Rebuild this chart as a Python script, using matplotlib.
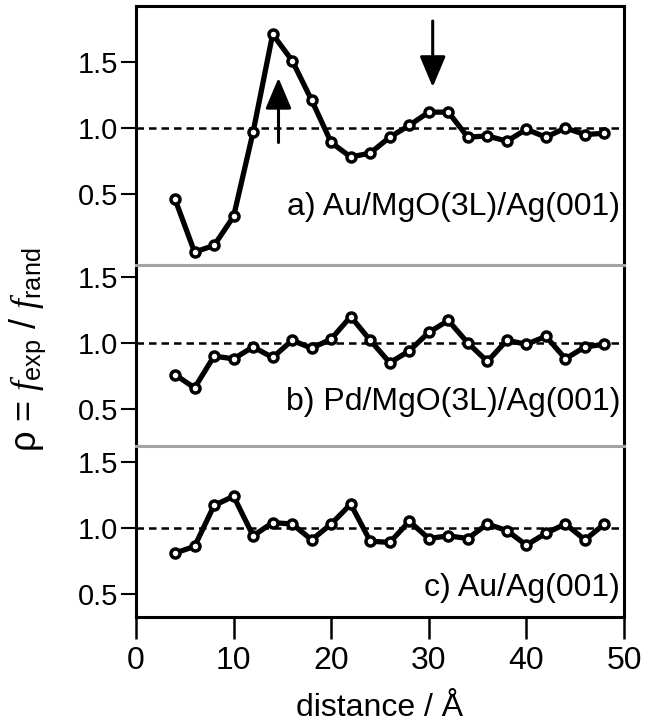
import matplotlib
matplotlib.use('Agg')
import matplotlib.pyplot as plt

plt.rcParams['font.family'] = ['Liberation Sans', 'DejaVu Sans']
plt.rcParams['mathtext.fontset'] = 'custom'
plt.rcParams['mathtext.rm'] = 'Liberation Sans'
plt.rcParams['mathtext.it'] = 'Liberation Serif:italic'

DISTANCE = [4, 6, 8, 10, 12, 14, 16, 18, 20, 22, 24, 26,
            28, 30, 32, 34, 36, 38, 40, 42, 44, 46, 48]

RHO_AU_MGO = [0.46, 0.06, 0.11, 0.33, 0.97, 1.71, 1.51, 1.21, 0.89, 0.78, 0.81, 0.93,
              1.02, 1.12, 1.12, 0.93, 0.94, 0.90, 0.99, 0.93, 1.00, 0.95, 0.96]
RHO_PD_MGO = [0.76, 0.66, 0.90, 0.88, 0.97, 0.89, 1.02, 0.96, 1.03, 1.20, 1.02, 0.85,
              0.94, 1.08, 1.17, 1.00, 0.86, 1.02, 0.99, 1.05, 0.88, 0.97, 0.99]
RHO_AU_AG = [0.81, 0.86, 1.17, 1.24, 0.94, 1.04, 1.03, 0.91, 1.03, 1.18, 0.90, 0.89,
             1.05, 0.92, 0.94, 0.92, 1.03, 0.98, 0.87, 0.96, 1.03, 0.91, 1.03]

LABELS = ['a) Au/MgO(3L)/Ag(001)', 'b) Pd/MgO(3L)/Ag(001)', 'c) Au/Ag(001)']
YLIMS = [(-0.038, 1.924), (0.22, 1.59), (0.326, 1.62)]
LABEL_Y = [0.40, 0.55, 0.545]

W, H = 645, 723
LEFT, RIGHT = 136, 624
BOUNDS = [(6, 265), (265, 446), (446, 617)]  # pixel top/bottom of each panel

GRAY = '#a3a3a3'
SPINE_W = 2.2

fig = plt.figure(figsize=(W / 100, H / 100), dpi=100)

axes = []
for i, (top, bottom) in enumerate(BOUNDS):
    ax = fig.add_axes([LEFT / W, (H - bottom) / H, (RIGHT - LEFT) / W, (bottom - top) / H])
    axes.append(ax)

series = [RHO_AU_MGO, RHO_PD_MGO, RHO_AU_AG]
for i, ax in enumerate(axes):
    ax.axhline(1.0, color='black', lw=1.8, dashes=(3, 2), zorder=1)
    ax.plot(DISTANCE, series[i], '-o', color='black', lw=3.8,
            markersize=6.5, markerfacecolor='white', markeredgecolor='black',
            markeredgewidth=2.5, zorder=3, clip_on=False)
    ax.set_xlim(0, 50)
    ax.set_ylim(*YLIMS[i])
    ax.set_yticks([0.5, 1.0, 1.5])
    ax.set_yticklabels(['0.5', '1.0', '1.5'])
    ax.tick_params(axis='y', direction='out', length=11, width=1.5, labelsize=21, pad=2)
    ax.text(49.6, LABEL_Y[i], LABELS[i], ha='right', va='center', fontsize=23)
    for side in ['left', 'right', 'top', 'bottom']:
        ax.spines[side].set_linewidth(SPINE_W)
        ax.spines[side].set_color('black')
    if i > 0:
        ax.spines['top'].set_color(GRAY)
    if i < 2:
        ax.spines['bottom'].set_color(GRAY)
        ax.tick_params(axis='x', bottom=False, labelbottom=False)

axes[2].set_xticks([0, 10, 20, 30, 40, 50])
axes[2].tick_params(axis='x', direction='out', length=16, width=1.8, labelsize=23, pad=5)
axes[2].set_xlabel('distance / Å', fontsize=23, labelpad=12)

# arrows in panel a
arrow = dict(arrowstyle='-|>,head_length=1.9,head_width=0.8',
             color='black', lw=2.2, shrinkA=0, shrinkB=0)
axes[0].annotate('', xy=(14.6, 1.38), xytext=(14.6, 0.89), arrowprops=arrow)
axes[0].annotate('', xy=(30.4, 1.31), xytext=(30.4, 1.81), arrowprops=arrow)

fig.text(28 / W, (H - 350) / H, 'ρ = $f_{\\mathrm{exp}}$ / $f_{\\mathrm{rand}}$',
         rotation=90, ha='center', va='center', fontsize=26)

fig.savefig('out.png', dpi=100)
